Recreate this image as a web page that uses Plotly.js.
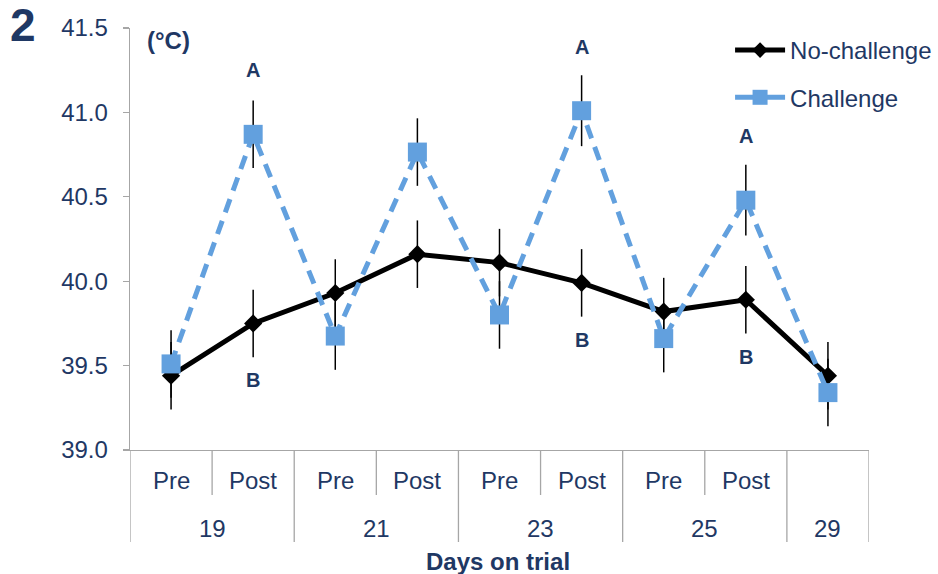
<!DOCTYPE html>
<html>
<head>
<meta charset="utf-8">
<script src="https://cdn.plot.ly/plotly-3.0.1.min.js"></script>
<style>html,body{margin:0;padding:0;background:#fff;}#chart{width:938px;height:574px;}</style>
</head>
<body>
<div id="chart"></div>
<script>
// ---- data ----
var phaseLabels = ["Pre", "Post", "Pre", "Post", "Pre", "Post", "Pre", "Post", ""];
var dayLabels = ["19", "19", "21", "21", "23", "23", "25", "25", "29"];
var noChallenge = [39.44, 39.75, 39.93, 40.16, 40.11, 39.99, 39.82, 39.89, 39.44];
var noChallengeErr = [0.2, 0.2, 0.2, 0.2, 0.2, 0.2, 0.2, 0.2, 0.2];
var challenge = [39.51, 40.87, 39.675, 40.765, 39.80, 41.01, 39.66, 40.48, 39.34];
var challengeErr = [0.2, 0.2, 0.2, 0.2, 0.2, 0.21, 0.2, 0.21, 0.2];
var letterA = ["", "A", "", "", "", "A", "", "A", ""];
var letterB = ["", "B", "", "", "", "B", "", "B", ""];
var yTicks = [39.0, 39.5, 40.0, 40.5, 41.0, 41.5];
var seriesNames = ["No-challenge", "Challenge"];

var navy = "#1f3864";
var blue = "#62a0de";
var axisGray = "#a6a6a6";
var fontFam = "Liberation Sans, Arial, sans-serif";

var idx = phaseLabels.map(function (_, i) { return i; });
var plotH = 574 - 28 - 124;

var traces = [
  {
    x: idx, y: noChallenge, name: seriesNames[0], type: "scatter", mode: "lines+markers",
    showlegend: false,
    line: { color: "#000000", width: 5 },
    marker: { symbol: "diamond", size: 14, color: "#000000" },
    error_y: { type: "data", array: noChallengeErr, visible: true, color: "#000000", thickness: 1.5, width: 0 }
  },
  {
    x: idx, y: challenge, name: seriesNames[1], type: "scatter", mode: "lines+markers",
    showlegend: false,
    line: { color: blue, width: 5, dash: "14px,9px" },
    marker: { symbol: "square", size: 19, color: blue },
    error_y: { type: "data", array: challengeErr, visible: true, color: "#000000", thickness: 1.5, width: 0 }
  },
  // legend entries (solid line keys as in the original legend)
  {
    x: [null], y: [null], name: seriesNames[0], type: "scatter", mode: "lines+markers",
    legendgroup: "a", line: { color: "#000000", width: 5 },
    marker: { symbol: "diamond", size: 12, color: "#000000" }
  },
  {
    x: [null], y: [null], name: seriesNames[1], type: "scatter", mode: "lines+markers",
    legendgroup: "b", line: { color: blue, width: 5 },
    marker: { symbol: "square", size: 15, color: blue }
  }
];

var annotations = [];
var shapes = [];
var groupStart = 0;
for (var i = 0; i < idx.length; i++) {
  if (phaseLabels[i] !== "") {
    annotations.push({ x: i, y: 0, xref: "x", yref: "paper", text: phaseLabels[i], showarrow: false,
      yanchor: "middle", yshift: -30, font: { size: 24, color: navy, family: fontFam } });
  }
  var last = (i === idx.length - 1) || dayLabels[i + 1] !== dayLabels[i];
  if (!last) {
    shapes.push({ type: "line", xref: "x", yref: "paper", x0: i + 0.5, x1: i + 0.5, y0: 0, y1: -45 / plotH,
      line: { color: axisGray, width: 1.3 } });
  } else {
    annotations.push({ x: (groupStart + i) / 2, y: 0, xref: "x", yref: "paper", text: dayLabels[i], showarrow: false,
      yanchor: "middle", yshift: -78, font: { size: 24, color: navy, family: fontFam } });
    shapes.push({ type: "line", xref: "x", yref: "paper", x0: i + 0.5, x1: i + 0.5, y0: 0, y1: -92 / plotH,
      line: { color: axisGray, width: 1.3 } });
    groupStart = i + 1;
  }
}
shapes.push({ type: "line", xref: "x", yref: "paper", x0: -0.5, x1: -0.5, y0: 0, y1: -92 / plotH,
  line: { color: axisGray, width: 1.3 } });

for (var j = 0; j < idx.length; j++) {
  if (letterA[j]) {
    annotations.push({ x: j, y: challenge[j], xref: "x", yref: "y", text: "<b>" + letterA[j] + "</b>", showarrow: false,
      yshift: 64, font: { size: 20, color: navy, family: fontFam } });
  }
  if (letterB[j]) {
    annotations.push({ x: j, y: noChallenge[j], xref: "x", yref: "y", text: "<b>" + letterB[j] + "</b>", showarrow: false,
      yshift: -57, font: { size: 20, color: navy, family: fontFam } });
  }
}

annotations.push({ x: 0, y: 0, xref: "paper", yref: "paper", text: "<b>Days on trial</b>", showarrow: false,
  xanchor: "center", yanchor: "middle", yshift: -111, xshift: 368, font: { size: 24, color: navy, family: fontFam } });
annotations.push({ x: 0, y: 1, xref: "paper", yref: "paper", text: "<b>(°C)</b>", showarrow: false,
  xanchor: "left", yanchor: "middle", xshift: 15, yshift: -12, font: { size: 24, color: navy, family: fontFam } });
annotations.push({ x: 0, y: 1, xref: "paper", yref: "paper", text: "<b>2</b>", showarrow: false,
  xanchor: "center", yanchor: "middle", xshift: -107, yshift: 3, font: { size: 46, color: navy, family: fontFam } });

var layout = {
  width: 938, height: 574,
  margin: { l: 130, r: 69, t: 28, b: 124, autoexpand: false },
  paper_bgcolor: "#ffffff", plot_bgcolor: "#ffffff",
  font: { family: fontFam, color: navy },
  showlegend: true,
  legend: {
    x: 0.812, y: 1.0, xanchor: "left", yanchor: "top",
    font: { size: 24, color: navy, family: fontFam },
    bgcolor: "rgba(0,0,0,0)", itemwidth: 50,
    traceorder: "grouped", tracegroupgap: 13
  },
  xaxis: {
    range: [-0.5, 8.5], showgrid: false, zeroline: false, showline: true,
    linecolor: axisGray, linewidth: 1.3, ticks: "", showticklabels: false, fixedrange: true
  },
  yaxis: {
    range: [39.0, 41.5], tickvals: yTicks, tickformat: ".1f", showgrid: false, zeroline: false,
    showline: true, linecolor: axisGray, linewidth: 1.3, ticks: "outside", ticklen: 6,
    tickcolor: axisGray, tickwidth: 1.3, ticklabelstandoff: 10,
    tickfont: { size: 24, color: navy, family: fontFam }
  },
  shapes: shapes,
  annotations: annotations
};

Plotly.newPlot("chart", traces, layout, { displayModeBar: false, staticPlot: true });
</script>
</body>
</html>
